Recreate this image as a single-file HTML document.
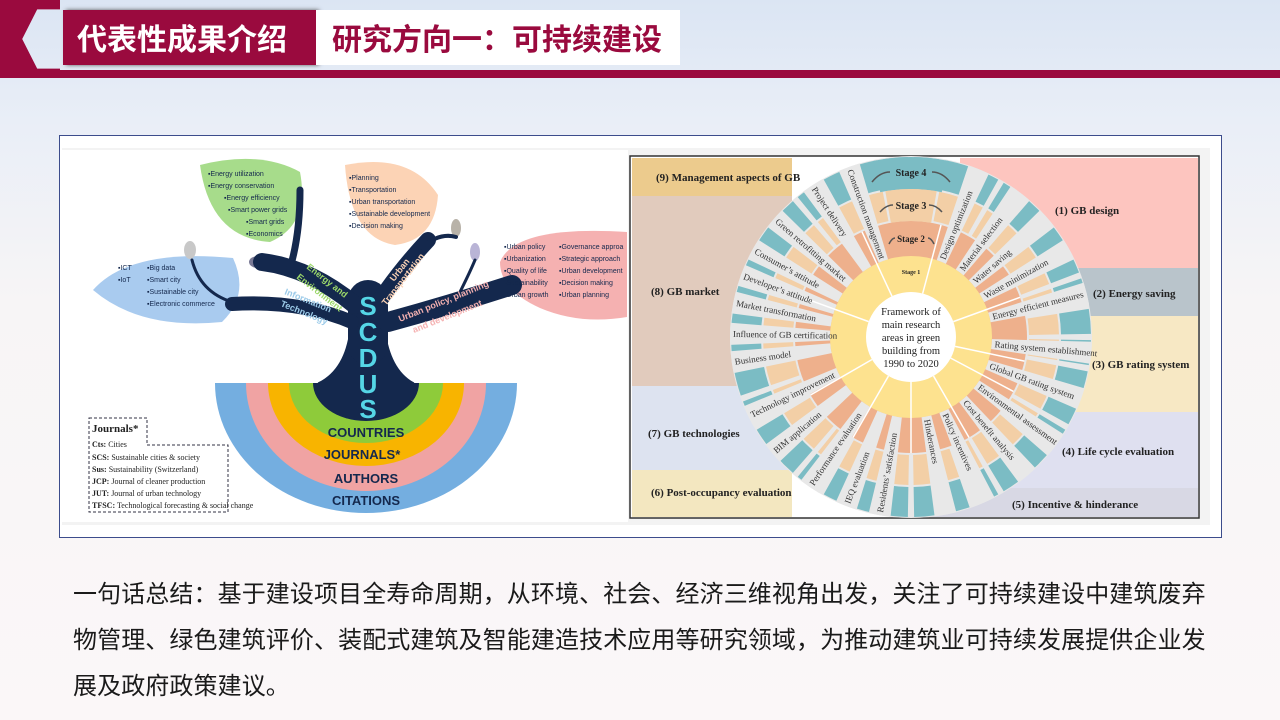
<!DOCTYPE html>
<html><head><meta charset="utf-8">
<style>
*{margin:0;padding:0;box-sizing:border-box}
body{width:1280px;height:720px;overflow:hidden;position:relative;font-family:"Liberation Sans","Noto Sans CJK SC",sans-serif;background:linear-gradient(#dbe5f3 0px,#e9eef7 120px,#f7f5f6 300px,#fbf7f8 720px)}
.band{position:absolute;left:0;top:70px;width:1280px;height:8px;background:#9a0a3e}
.chev{position:absolute;left:0;top:0;width:60px;height:78px;background:#9a0a3e;clip-path:polygon(0 0,100% 0,100% 12%,62% 12%,37% 50%,62% 88%,100% 88%,100% 100%,0 100%)}
.t1{position:absolute;left:63px;top:10px;width:253px;height:55px;background:#9a0a3e;color:#fff;font-size:30px;font-weight:bold;line-height:55px;padding-left:14px;font-family:"Noto Sans CJK SC",sans-serif;box-shadow:3px 0 4px #555}
.t2{position:absolute;left:316px;top:10px;width:364px;height:55px;background:#fff;color:#9a0a3e;font-size:30px;font-weight:bold;line-height:55px;padding-left:16px;font-family:"Noto Sans CJK SC",sans-serif}
.frame{position:absolute;left:59px;top:135px;width:1163px;height:403px;border:1px solid #3c4c8c;background:#fff}
.sum{position:absolute;left:73px;top:569px;white-space:nowrap;font-size:24px;line-height:46px;color:#1a1a1a;font-family:"Noto Sans CJK SC",sans-serif;letter-spacing:0.1px}
</style></head><body>
<div class="chev"></div><div class="band"></div>
<div class="t1">代表性成果介绍</div>
<div class="t2">研究方向一：可持续建设</div>
<div class="frame"></div>
<svg style="position:absolute;left:0;top:0" width="1280" height="720" id="sv">
<defs><clipPath id="half"><rect x="200" y="383" width="340" height="140"/></clipPath></defs>
<rect x="62" y="148" width="1148" height="377" fill="#f3f3f3"/>
<rect x="62" y="150" width="566" height="372" fill="#fff"/>
<g clip-path="url(#half)">
<ellipse cx="366" cy="383" rx="151" ry="130" fill="#74aee0"/>
<ellipse cx="366" cy="383" rx="120" ry="108" fill="#f0a3a3"/>
<ellipse cx="366" cy="383" rx="98" ry="83" fill="#f8b400"/>
<ellipse cx="366" cy="383" rx="77" ry="60" fill="#8ecb3a"/>
<ellipse cx="366" cy="383" rx="53" ry="38" fill="#14284d"/>
</g>
<path d="M93,290 Q130,248 233,258 Q250,295 222,322 Q140,330 93,290Z" fill="#a9cbef"/>
<path d="M200,165 Q260,150 300,172 Q310,225 270,242 Q210,238 200,165Z" fill="#a7dc8b"/>
<path d="M345,165 Q410,152 438,195 Q435,240 395,245 Q350,238 345,165Z" fill="#fcd3b5"/>
<path d="M500,262 Q515,225 627,232 L627,317 Q580,325 540,308 Q500,290 500,262Z" fill="#f5b1b1"/>
<ellipse cx="258" cy="262" rx="9" ry="6" fill="#7a7a96"/>
<ellipse cx="190" cy="250" rx="6" ry="9" fill="#c8c8c8"/>
<ellipse cx="456" cy="228" rx="5" ry="9" fill="#b8b2a8"/>
<ellipse cx="475" cy="252" rx="5" ry="9" fill="#b9b4d6"/>
<g fill="none" stroke="#14284d" stroke-linecap="round">
<path d="M318,383 Q345,370 350,330 L350,300 L385,300 L385,330 Q390,370 414,383Z" fill="#14284d" stroke-width="1"/>
<path d="M368,345 L368,300" stroke-width="40"/>
<path d="M352,322 Q300,300 232,304" stroke-width="14"/>
<path d="M232,302 Q200,292 192,260" stroke-width="3"/>
<path d="M355,305 Q310,268 262,262" stroke-width="18"/>
<path d="M290,268 Q300,235 300,190" stroke-width="7"/>
<path d="M380,300 Q400,270 428,240" stroke-width="16"/>
<path d="M420,248 Q440,232 456,237" stroke-width="4"/>
<path d="M388,322 Q450,305 512,285" stroke-width="20"/>
<path d="M460,292 Q470,272 475,260" stroke-width="3"/>
</g>
<g font-family="Liberation Sans" font-weight="bold" font-size="9">
<text transform="translate(306,268) rotate(38)" fill="#9cd86a">Energy and</text>
<text transform="translate(296,278) rotate(38)" fill="#9cd86a">Environment</text>
<text transform="translate(284,294) rotate(22)" fill="#9ccbe9">Information</text>
<text transform="translate(280,306) rotate(22)" fill="#9ccbe9">Technology</text>
<text transform="translate(394,282) rotate(-52)" fill="#fcd3b5">Urban</text>
<text transform="translate(386,306) rotate(-52)" fill="#fcd3b5">Transportation</text>
<text transform="translate(400,322) rotate(-22)" fill="#f5b1b1">Urban policy, planning</text>
<text transform="translate(414,333) rotate(-22)" fill="#f5b1b1">and development</text>
</g>
<g font-family="Liberation Sans" font-size="26" fill="#55d6e6" font-weight="bold" text-anchor="middle">
<text x="368" y="315">S</text><text x="368" y="341">C</text><text x="368" y="367">D</text><text x="368" y="393">U</text><text x="368" y="418">S</text>
</g>
<g font-family="Liberation Sans" font-weight="bold" fill="#14284d" text-anchor="middle">
<text x="366" y="437" font-size="13">COUNTRIES</text>
<text x="362" y="459" font-size="13">JOURNALS*</text>
<text x="366" y="483" font-size="13">AUTHORS</text>
<text x="366" y="505" font-size="13">CITATIONS</text>
</g>
<g font-family="Liberation Sans" font-size="7" fill="#14284d">
<text x="208" y="176">▪Energy utilization</text><text x="208" y="188">▪Energy conservation</text><text x="224" y="200">▪Energy efficiency</text><text x="228" y="212">▪Smart power grids</text><text x="246" y="224">▪Smart grids</text><text x="246" y="236">▪Economics</text>
<text x="349" y="180">▪Planning</text><text x="349" y="192">▪Transportation</text><text x="349" y="204">▪Urban transportation</text><text x="349" y="216">▪Sustainable development</text><text x="349" y="228">▪Decision making</text>
<text x="118" y="270">▪ICT</text><text x="118" y="282">▪IoT</text><text x="147" y="270">▪Big data</text><text x="147" y="282">▪Smart city</text><text x="147" y="294">▪Sustainable city</text><text x="147" y="306">▪Electronic commerce</text>
<text x="504" y="249">▪Urban policy</text><text x="504" y="261">▪Urbanization</text><text x="504" y="273">▪Quality of life</text><text x="504" y="285">▪Sustainability</text><text x="504" y="297">▪Urban growth</text>
<text x="559" y="249">▪Governance approa</text><text x="559" y="261">▪Strategic approach</text><text x="559" y="273">▪Urban development</text><text x="559" y="285">▪Decision making</text><text x="559" y="297">▪Urban planning</text>
</g>
<path d="M89,418 H147 V445 H228 V512 H89Z" fill="#fff" stroke="#334" stroke-dasharray="3,2"/>
<g font-size="8" fill="#222" font-family="Liberation Serif">
<text x="92" y="432" font-size="11" font-weight="bold">Journals*</text>
<text x="92" y="447"><tspan font-weight="bold">Cts:</tspan> Cities</text>
<text x="92" y="460"><tspan font-weight="bold">SCS:</tspan> Sustainable cities &amp; society</text>
<text x="92" y="472"><tspan font-weight="bold">Sus:</tspan> Sustainability (Switzerland)</text>
<text x="92" y="484"><tspan font-weight="bold">JCP:</tspan> Journal of cleaner production</text>
<text x="92" y="496"><tspan font-weight="bold">JUT:</tspan> Journal of urban technology</text>
<text x="92" y="508"><tspan font-weight="bold">TFSC:</tspan> Technological forecasting &amp; social change</text>
</g>
<rect x="630" y="156" width="569" height="362" fill="#fff" stroke="#333" stroke-width="1.5"/>
<rect x="632" y="158" width="160" height="38" fill="#eccb8d"/>
<rect x="632" y="196" width="160" height="190" fill="#e1cbbd"/>
<rect x="632" y="386" width="160" height="84" fill="#dde3f0"/>
<rect x="632" y="470" width="160" height="47" fill="#f3e7c0"/>
<rect x="960" y="158" width="238" height="110" fill="#fdc5bf"/>
<rect x="1040" y="268" width="158" height="48" fill="#b9c4cb"/>
<rect x="1040" y="316" width="158" height="96" fill="#f7e8c4"/>
<rect x="1000" y="412" width="198" height="76" fill="#dfe0f0"/>
<rect x="900" y="488" width="298" height="29" fill="#d8d8e4"/>
<g id="wheel" font-family="Liberation Serif"></g>
<g font-weight="bold" font-size="11" fill="#222" font-family="Liberation Serif">
<text x="656" y="181">(9) Management aspects of GB</text>
<text x="651" y="295">(8) GB market</text>
<text x="648" y="437">(7) GB technologies</text>
<text x="651" y="496">(6) Post-occupancy evaluation</text>
<text x="1055" y="214">(1) GB design</text>
<text x="1093" y="297">(2) Energy saving</text>
<text x="1092" y="368">(3) GB rating system</text>
<text x="1062" y="455">(4) Life cycle evaluation</text>
<text x="1012" y="508">(5) Incentive &amp; hinderance</text>
</g>
</svg>
<div class="sum">一句话总结：基于建设项目全寿命周期，从环境、社会、经济三维视角出发，关注了可持续建设中建筑废弃<br>物管理、绿色建筑评价、装配式建筑及智能建造技术应用等研究领域，为推动建筑业可持续发展提供企业发<br>展及政府政策建议。</div>
<script>
(function(){
var cx=911,cy=337,g=document.getElementById('wheel'),h='';
function P(r,a){a=a*Math.PI/180;return [cx+r*Math.cos(a),cy+r*Math.sin(a)];}
function wedge(r1,r2,a1,a2,f){var p1=P(r2,a1),p2=P(r2,a2),p3=P(r1,a2),p4=P(r1,a1);
return '<path d="M'+p1+' A'+r2+','+r2+' 0 0 1 '+p2+' L'+p3+' A'+r1+','+r1+' 0 0 0 '+p4+'Z" fill="'+f+'"/>';}
h+='<circle cx="'+cx+'" cy="'+cy+'" r="181" fill="#e8e8e8"/>';
h+='<circle cx="'+cx+'" cy="'+cy+'" r="116" fill="#eeb08c"/>';
h+='<circle cx="'+cx+'" cy="'+cy+'" r="81" fill="#fde28f"/>';
for(var a=-90;a<270;a+=10){
 h+=wedge(150,180,a+1,a+9,'#7bbcc4');
 h+=wedge(118,148,a+1,a+9,'#f3cfa6');
}
h+=wedge(148,180,-102,-78,'#7bbcc4');
h+=wedge(116,148,-100,-80,'#f3cfa6');
var L=[['Design optimization',-68,1],['Material selection',-53,1],['Water saving',-41,1],['Waste minimization',-29,1],['Energy efficient measures',-14,1],['Rating system establishment',5,1],['Global GB rating system',20,1],['Environmental assessment',36,1],['Cost benefit analysis',50,1],['Policy incentives',66,1],['Hinderances',79,1],
['Residents\u2019 satisfaction',100,0],['IEQ evaluation',111,0],['Performance evaluation',124,0],['BIM application',140,0],['Technology improvement',154,0],['Business model',172,0],['Influence of GB certification',181,0],['Market transformation',191,0],['Developer\u2019s attitude',200,0],['Consumer\u2019s attitude',209,0],['Green retrofitting market',221,0],['Project delivery',237,0],['Construction management',250,0]];
L.forEach(function(l){h+=wedge(81,181,l[1]-3.5,l[1]+3.5,'#e8e8e8');});
[-75,-20,12,28,60,90,120,150,200,245].forEach(function(a){var p=P(45,a),q=P(116,a);h+='<line x1="'+p[0]+'" y1="'+p[1]+'" x2="'+q[0]+'" y2="'+q[1]+'" stroke="#fff" stroke-width="1.5"/>';});
h+='<circle cx="'+cx+'" cy="'+cy+'" r="45" fill="#fff"/>';
L.forEach(function(l){var a=l[1],s,p;
 if(l[2]){p=P(84,a);s='<text font-size="9" fill="#333" transform="translate('+p[0]+','+p[1]+') rotate('+a+')" dy="3">'+l[0]+'</text>';}
 else{p=P(178,a);s='<text font-size="9" fill="#333" transform="translate('+p[0]+','+p[1]+') rotate('+(a+180)+')" dy="3">'+l[0]+'</text>';}
 h+=s;});
h+='<g text-anchor="middle" font-size="10.5" fill="#222"><text x="'+cx+'" y="315">Framework of</text><text x="'+cx+'" y="328">main research</text><text x="'+cx+'" y="341">areas in green</text><text x="'+cx+'" y="354">building from</text><text x="'+cx+'" y="367">1990 to 2020</text></g>';
h+='<g text-anchor="middle" font-weight="bold" fill="#222"><text x="'+cx+'" y="176" font-size="10">Stage 4</text><text x="'+cx+'" y="209" font-size="10">Stage 3</text><text x="'+cx+'" y="242" font-size="9">Stage 2</text><text x="'+cx+'" y="274" font-size="6">Stage 1</text></g>';
h+='<g fill="none" stroke="#555" stroke-width="1.5"><path d="M872,182 Q880,172 890,172"/><path d="M932,172 Q942,172 950,182"/><path d="M880,212 Q886,205 893,205"/><path d="M929,205 Q936,205 942,212"/><path d="M889,244 Q892,238 895,238"/><path d="M928,238 Q931,238 934,244"/></g>';
g.innerHTML=h;
})();
</script>
</body></html>
